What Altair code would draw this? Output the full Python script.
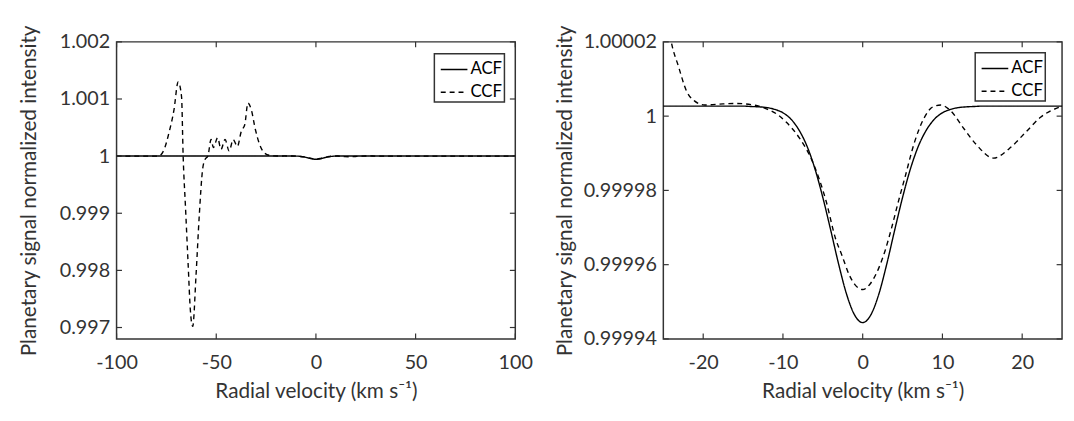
import altair as alt
import pandas as pd

# ---------------- data ----------------
series_names = ["ACF", "CCF"]

acf_v = [-100, -25, -20, -15, -14, -13, -12, -11, -10, -9, -8, -7, -6, -5, -4, -3, -2, -1,
         0, 1, 2, 3, 4, 5, 6, 7, 8, 9, 10, 11, 12, 13, 14, 15, 20, 25, 100]
acf_i = [1.0000027, 1.0000027, 1.0000027, 1.0000027, 1.0000026, 1.0000025, 1.0000023,
         1.0000018, 1.0000009, 0.9999992, 0.9999963, 0.9999920, 0.9999859, 0.9999781,
         0.9999692, 0.9999600, 0.9999519, 0.9999464, 0.9999444, 0.9999464, 0.9999519,
         0.9999600, 0.9999692, 0.9999781, 0.9999859, 0.9999920, 0.9999963, 0.9999992,
         1.0000009, 1.0000018, 1.0000023, 1.0000025, 1.0000026, 1.0000027, 1.0000027,
         1.0000027, 1.0000027]

ccf_v = [-100, -90, -80, -78.6, -76.1, -73.7, -71.2, -69.1, -67.4, -66.6, -65.4, -64.1,
         -63.0, -61.8, -60.1, -58.5, -56.8, -55.5, -54.2, -52.6, -51.4, -49.3, -47.6,
         -45.6, -43.5, -41.5, -39.4, -37.4, -35.7, -34.1, -32.4, -30.4, -28.3, -26.1,
         -25, -24, -23.1, -22.1, -21.1, -19.8, -17.5, -15.8, -13.7, -12, -10.8, -9.6,
         -7.9, -6.3, -4.6, -3.4, -2.6, -1.7, -1.0, 0, 1.0, 2.0, 2.8, 3.6, 4.5, 5.3, 6.5,
         7.7, 8.8, 9.8, 11, 12.7, 14.3, 16.4, 18.4, 20.5, 22.3, 25, 27, 30, 40, 50, 60,
         70, 80, 90, 100]
ccf_i = [1.0, 1.0, 1.0, 1.000005, 1.00012, 1.00041, 1.00081, 1.0013, 1.00104, 1.0,
         0.99909, 0.99811, 0.99731, 0.99702, 0.99794, 0.99897, 0.99978, 0.99995, 1.0,
         1.00029, 1.00015, 1.00032, 1.00012, 1.00029, 1.00009, 1.00029, 1.00017, 1.00044,
         1.00055, 1.00093, 1.00081, 1.00047, 1.00021, 1.000064,
         1.000035, 1.00002, 1.0000134, 1.0000068, 1.0000041, 1.000003, 1.0000033,
         1.0000034, 1.000003, 1.0000019, 1.0000006, 0.9999984, 0.999994, 0.9999878,
         0.9999772, 0.9999670, 0.9999625, 0.9999573, 0.9999547, 0.9999533, 0.999955,
         0.999959, 0.9999637, 0.9999697, 0.9999772, 0.9999835, 0.999993, 0.9999995,
         1.0000025, 1.000003, 1.0000015, 0.9999966, 0.9999922, 0.9999887, 0.9999913,
         0.9999958, 0.9999997, 1.0000027, 1.000004, 1.0, 1.0, 1.0, 1.0, 1.0, 1.0, 1.0, 1.0]

left_xticks = [-100, -50, 0, 50, 100]
left_yticks = [0.997, 0.998, 0.999, 1, 1.001, 1.002]
right_xticks = [-20, -10, 0, 10, 20]
right_yticks = [0.99994, 0.99996, 0.99998, 1, 1.00002]

left_xdom = [-100, 100]
left_ydom = [0.9968, 1.002]
right_xdom = [-25, 25]
right_ydom = [0.99994, 1.00002]

x_title = "Radial velocity (km s⁻¹)"
y_title = "Planetary signal normalized intensity"

df = pd.concat([
    pd.DataFrame({"v": acf_v, "i": acf_i, "series": series_names[0]}),
    pd.DataFrame({"v": ccf_v, "i": ccf_i, "series": series_names[1]}),
], ignore_index=True)

# ---------------- styling ----------------
W, H, TK = 404, 301, 5.5
FONT = "Lato"
INK = "#333333"


def panel(xdom, ydom, xt, yt, lx, ly, ytp):
    xs = alt.Scale(domain=xdom, nice=False, zero=False)
    ys = alt.Scale(domain=ydom, nice=False, zero=False)
    xax = alt.Axis(values=xt, ticks=False, domain=False, grid=False, labelFlush=False,
                   labelOverlap=False, labelExpr="'' + datum.value", title=x_title,
                   labelPadding=14, titlePadding=8)
    yax = alt.Axis(values=yt, ticks=False, domain=False, grid=False, labelFlush=False,
                   labelOverlap=False, labelExpr="'' + datum.value", title=y_title,
                   labelPadding=7, titlePadding=ytp)
    lines = alt.Chart(df).mark_line(clip=True, strokeWidth=1.4, color="black",
                                    interpolate="monotone").encode(
        x=alt.X("v:Q", scale=xs, axis=xax),
        y=alt.Y("i:Q", scale=ys, axis=yax),
        strokeDash=alt.StrokeDash(
            "series:N",
            scale=alt.Scale(domain=series_names, range=[[1, 0], [5, 4]]),
            legend=alt.Legend(title=None, orient="none", legendX=lx, legendY=ly,
                              direction="vertical", symbolType="stroke",
                              symbolSize=729, symbolStrokeWidth=1.4,
                              symbolStrokeColor="black", symbolOffset=4,
                              labelFont=FONT, labelFontSize=17, labelColor="black",
                              labelOffset=2, padding=1.5, rowPadding=-7,
                              strokeColor=INK, fillColor="white"),
        ),
    )
    xdf = pd.DataFrame({"t": xt})
    ydf = pd.DataFrame({"t": yt})
    xtop = alt.Chart(xdf).mark_rule(color=INK, strokeWidth=1.2).encode(
        x=alt.X("t:Q", scale=xs, axis=xax), y=alt.value(0), y2=alt.value(TK))
    xbot = alt.Chart(xdf).mark_rule(color=INK, strokeWidth=1.2).encode(
        x=alt.X("t:Q", scale=xs, axis=xax), y=alt.value(H - TK), y2=alt.value(H))
    yl = alt.Chart(ydf).mark_rule(color=INK, strokeWidth=1.2).encode(
        y=alt.Y("t:Q", scale=ys, axis=yax), x=alt.value(0), x2=alt.value(TK))
    yr = alt.Chart(ydf).mark_rule(color=INK, strokeWidth=1.2).encode(
        y=alt.Y("t:Q", scale=ys, axis=yax), x=alt.value(W - TK), x2=alt.value(W))
    return alt.layer(lines, xtop, xbot, yl, yr).properties(width=W, height=H)


left = panel(left_xdom, left_ydom, left_xticks, left_yticks, 322, 12, 20)
right = panel(right_xdom, right_ydom, right_xticks, right_yticks, 316, 11, 8)

chart = alt.hconcat(left, right, spacing=19).resolve_scale(
    strokeDash="independent").resolve_legend(strokeDash="independent").properties(
    padding={"left": 10, "top": 12.7, "right": 2, "bottom": 0}
).configure_view(stroke=INK, strokeWidth=1.5).configure_axis(
    labelFont=FONT, labelFontSize=20, labelColor=INK, labelFontWeight="normal",
    titleFont=FONT, titleFontSize=21, titleColor=INK, titleFontWeight="normal",
).configure_legend(strokeWidth=1.5)

chart.save("out.html", embed_options={"renderer": "svg", "actions": False})
